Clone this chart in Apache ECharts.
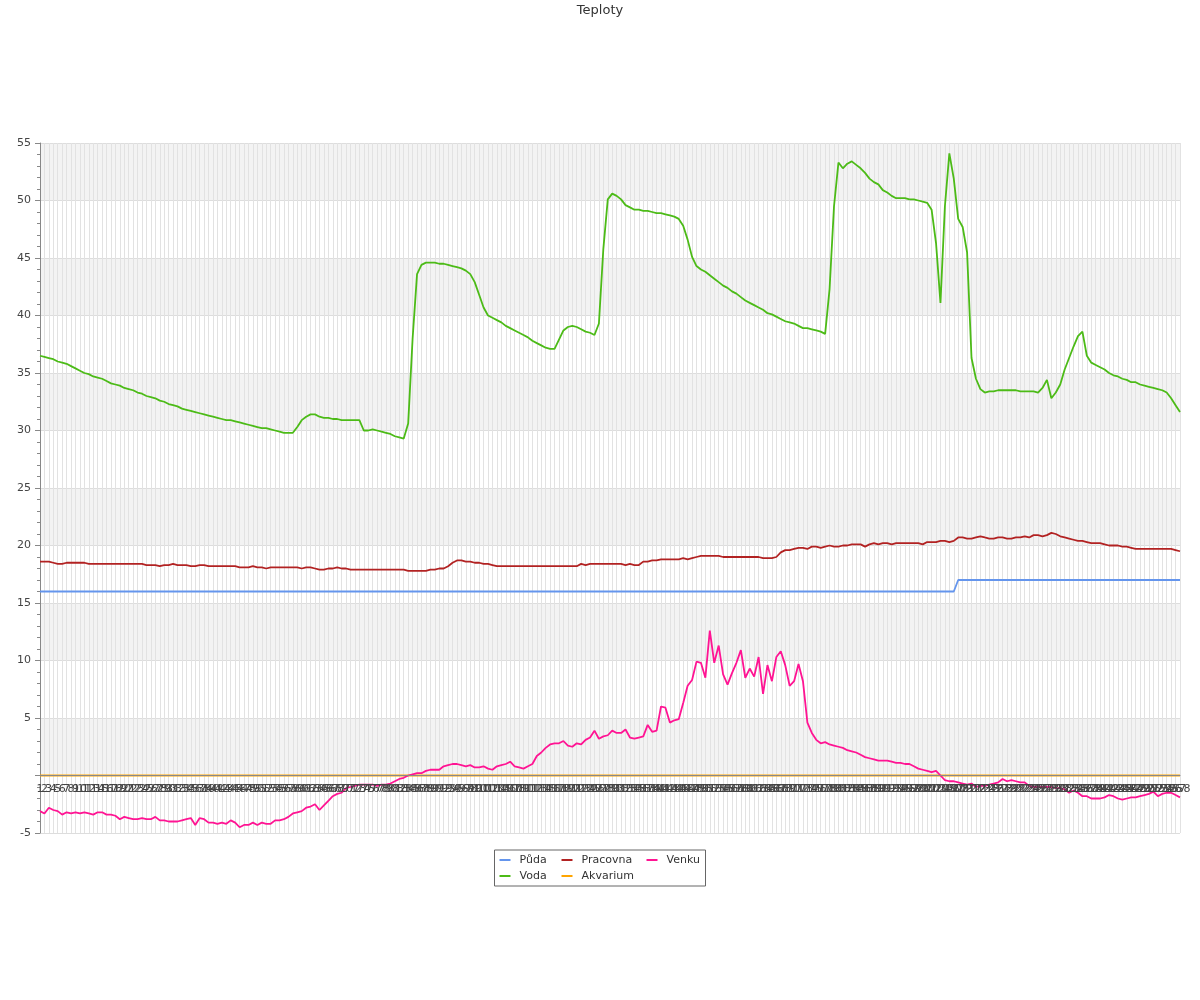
<!DOCTYPE html>
<html>
<head>
<meta charset="utf-8">
<script src="https://cdn.jsdelivr.net/npm/echarts@6/dist/echarts.min.js"></script>
<style>html,body{margin:0;padding:0;background:#fff}#c{width:1200px;height:1000px}</style>
</head>
<body>
<div id="c"></div>
<script>
const title = 'Teploty';
const categories = Array.from({length: 258}, (_, i) => String(i + 1));

const puda = [
16,16,16,16,16,16,16,16,16,16,16,16,16,16,16,16,16,16,16,16,
16,16,16,16,16,16,16,16,16,16,16,16,16,16,16,16,16,16,16,16,
16,16,16,16,16,16,16,16,16,16,16,16,16,16,16,16,16,16,16,16,
16,16,16,16,16,16,16,16,16,16,16,16,16,16,16,16,16,16,16,16,
16,16,16,16,16,16,16,16,16,16,16,16,16,16,16,16,16,16,16,16,
16,16,16,16,16,16,16,16,16,16,16,16,16,16,16,16,16,16,16,16,
16,16,16,16,16,16,16,16,16,16,16,16,16,16,16,16,16,16,16,16,
16,16,16,16,16,16,16,16,16,16,16,16,16,16,16,16,16,16,16,16,
16,16,16,16,16,16,16,16,16,16,16,16,16,16,16,16,16,16,16,16,
16,16,16,16,16,16,16,16,16,16,16,16,16,16,16,16,16,16,16,16,
16,16,16,16,16,16,16,
17,17,17,17,17,17,17,17,17,17,17,17,17,17,17,17,17,17,17,17,
17,17,17,17,17,17,17,17,17,17,17,17,17,17,17,17,17,17,17,17,
17,17,17,17,17,17,17,17,17,17,17
];

const voda = [
36.5,36.4,36.3,36.2,36.0,35.9,35.8,35.6,35.4,35.2,
35.0,34.9,34.7,34.6,34.5,34.3,34.1,34.0,33.9,33.7,
33.6,33.5,33.3,33.2,33.0,32.9,32.8,32.6,32.5,32.3,
32.2,32.1,31.9,31.8,31.7,31.6,31.5,31.4,31.3,31.2,
31.1,31.0,30.9,30.9,30.8,30.7,30.6,30.5,30.4,30.3,
30.2,30.2,30.1,30.0,29.9,29.8,29.8,29.8,30.3,30.9,
31.2,31.4,31.4,31.2,31.1,31.1,31.0,31.0,30.9,30.9,
30.9,30.9,30.9,30.0,30.0,30.1,30.0,29.9,29.8,29.7,
29.5,29.4,29.3,30.6,38.0,43.6,44.4,44.6,44.6,44.6,
44.5,44.5,44.4,44.3,44.2,44.1,43.9,43.6,42.9,41.8,
40.7,40.0,39.8,39.6,39.4,39.1,38.9,38.7,38.5,38.3,
38.1,37.8,37.6,37.4,37.2,37.1,37.1,37.9,38.7,39.0,
39.1,39.0,38.8,38.6,38.5,38.3,39.3,45.8,50.1,50.6,
50.4,50.1,49.6,49.4,49.2,49.2,49.1,49.1,49.0,48.9,
48.9,48.8,48.7,48.6,48.4,47.8,46.6,45.1,44.3,44.0,
43.8,43.5,43.2,42.9,42.6,42.4,42.1,41.9,41.6,41.3,
41.1,40.9,40.7,40.5,40.2,40.1,39.9,39.7,39.5,39.4,
39.3,39.1,38.9,38.9,38.8,38.7,38.6,38.4,42.3,49.5,
53.3,52.8,53.2,53.4,53.1,52.8,52.4,51.9,51.6,51.4,
50.9,50.7,50.4,50.2,50.2,50.2,50.1,50.1,50.0,49.9,
49.8,49.2,46.3,41.1,49.5,54.1,51.9,48.4,47.7,45.5,
36.3,34.5,33.6,33.3,33.4,33.4,33.5,33.5,33.5,33.5,
33.5,33.4,33.4,33.4,33.4,33.3,33.7,34.4,32.8,33.3,
34.0,35.3,36.3,37.3,38.2,38.6,36.5,35.9,35.7,35.5,
35.3,35.0,34.8,34.7,34.5,34.4,34.2,34.2,34.0,33.9,
33.8,33.7,33.6,33.5,33.3,32.8,32.2,31.6
];

const pracovna = [
18.6,18.6,18.6,18.5,18.4,18.4,18.5,18.5,18.5,18.5,
18.5,18.4,18.4,18.4,18.4,18.4,18.4,18.4,18.4,18.4,
18.4,18.4,18.4,18.4,18.3,18.3,18.3,18.2,18.3,18.3,
18.4,18.3,18.3,18.3,18.2,18.2,18.3,18.3,18.2,18.2,
18.2,18.2,18.2,18.2,18.2,18.1,18.1,18.1,18.2,18.1,
18.1,18.0,18.1,18.1,18.1,18.1,18.1,18.1,18.1,18.0,
18.1,18.1,18.0,17.9,17.9,18.0,18.0,18.1,18.0,18.0,
17.9,17.9,17.9,17.9,17.9,17.9,17.9,17.9,17.9,17.9,
17.9,17.9,17.9,17.8,17.8,17.8,17.8,17.8,17.9,17.9,
18.0,18.0,18.2,18.5,18.7,18.7,18.6,18.6,18.5,18.5,
18.4,18.4,18.3,18.2,18.2,18.2,18.2,18.2,18.2,18.2,
18.2,18.2,18.2,18.2,18.2,18.2,18.2,18.2,18.2,18.2,
18.2,18.2,18.4,18.3,18.4,18.4,18.4,18.4,18.4,18.4,
18.4,18.4,18.3,18.4,18.3,18.3,18.6,18.6,18.7,18.7,
18.8,18.8,18.8,18.8,18.8,18.9,18.8,18.9,19.0,19.1,
19.1,19.1,19.1,19.1,19.0,19.0,19.0,19.0,19.0,19.0,
19.0,19.0,19.0,18.9,18.9,18.9,19.0,19.4,19.6,19.6,
19.7,19.8,19.8,19.7,19.9,19.9,19.8,19.9,20.0,19.9,
19.9,20.0,20.0,20.1,20.1,20.1,19.9,20.1,20.2,20.1,
20.2,20.2,20.1,20.2,20.2,20.2,20.2,20.2,20.2,20.1,
20.3,20.3,20.3,20.4,20.4,20.3,20.4,20.7,20.7,20.6,
20.6,20.7,20.8,20.7,20.6,20.6,20.7,20.7,20.6,20.6,
20.7,20.7,20.8,20.7,20.9,20.9,20.8,20.9,21.1,21.0,
20.8,20.7,20.6,20.5,20.4,20.4,20.3,20.2,20.2,20.2,
20.1,20.0,20.0,20.0,19.9,19.9,19.8,19.7,19.7,19.7,
19.7,19.7,19.7,19.7,19.7,19.7,19.6,19.5
];

const akvarium = [
0,0,0,0,0,0,0,0,0,0,0,0,0,0,0,0,0,0,0,0,
0,0,0,0,0,0,0,0,0,0,0,0,0,0,0,0,0,0,0,0,
0,0,0,0,0,0,0,0,0,0,0,0,0,0,0,0,0,0,0,0,
0,0,0,0,0,0,0,0,0,0,0,0,0,0,0,0,0,0,0,0,
0,0,0,0,0,0,0,0,0,0,0,0,0,0,0,0,0,0,0,0,
0,0,0,0,0,0,0,0,0,0,0,0,0,0,0,0,0,0,0,0,
0,0,0,0,0,0,0,0,0,0,0,0,0,0,0,0,0,0,0,0,
0,0,0,0,0,0,0,0,0,0,0,0,0,0,0,0,0,0,0,0,
0,0,0,0,0,0,0,0,0,0,0,0,0,0,0,0,0,0,0,0,
0,0,0,0,0,0,0,0,0,0,0,0,0,0,0,0,0,0,0,0,
0,0,0,0,0,0,0,0,0,0,0,0,0,0,0,0,0,0,0,0,
0,0,0,0,0,0,0,0,0,0,0,0,0,0,0,0,0,0,0,0,
0,0,0,0,0,0,0,0,0,0,0,0,0,0,0,0,0,0
];

const venku = [
-3.1,-3.3,-2.8,-3.0,-3.1,-3.4,-3.2,-3.3,-3.2,-3.3,
-3.2,-3.3,-3.4,-3.2,-3.2,-3.4,-3.4,-3.5,-3.8,-3.6,
-3.7,-3.8,-3.8,-3.7,-3.8,-3.8,-3.6,-3.9,-3.9,-4.0,
-4.0,-4.0,-3.9,-3.8,-3.7,-4.3,-3.7,-3.8,-4.1,-4.1,
-4.2,-4.1,-4.2,-3.9,-4.1,-4.5,-4.3,-4.3,-4.1,-4.3,
-4.1,-4.2,-4.2,-3.9,-3.9,-3.8,-3.6,-3.3,-3.2,-3.1,
-2.8,-2.7,-2.5,-3.0,-2.6,-2.2,-1.8,-1.6,-1.5,-1.1,
-1.0,-0.9,-0.8,-0.8,-0.8,-0.8,-0.9,-0.8,-0.8,-0.7,
-0.5,-0.3,-0.2,0.0,0.1,0.2,0.2,0.4,0.5,0.5,
0.5,0.8,0.9,1.0,1.0,0.9,0.8,0.9,0.7,0.7,
0.8,0.6,0.5,0.8,0.9,1.0,1.2,0.8,0.7,0.6,
0.8,1.0,1.7,2.0,2.4,2.7,2.8,2.8,3.0,2.6,
2.5,2.8,2.7,3.1,3.3,3.9,3.2,3.4,3.5,3.9,
3.7,3.7,4.0,3.3,3.2,3.3,3.4,4.4,3.8,3.9,
6.0,5.9,4.6,4.8,4.9,6.3,7.8,8.3,9.9,9.8,
8.5,12.6,9.8,11.3,8.8,7.9,8.9,9.8,10.9,8.5,
9.3,8.6,10.3,7.1,9.6,8.2,10.3,10.8,9.6,7.8,
8.2,9.7,8.2,4.6,3.7,3.1,2.8,2.9,2.7,2.6,
2.5,2.4,2.2,2.1,2.0,1.8,1.6,1.5,1.4,1.3,
1.3,1.3,1.2,1.1,1.1,1.0,1.0,0.8,0.6,0.5,
0.4,0.3,0.4,0.0,-0.4,-0.5,-0.5,-0.6,-0.7,-0.8,
-0.7,-1.0,-0.9,-0.9,-0.8,-0.7,-0.6,-0.3,-0.5,-0.4,
-0.5,-0.6,-0.6,-0.9,-1.0,-1.0,-1.0,-1.0,-1.0,-1.1,
-1.1,-1.2,-1.5,-1.3,-1.5,-1.8,-1.8,-2.0,-2.0,-2.0,
-1.9,-1.7,-1.8,-2.0,-2.1,-2.0,-1.9,-1.9,-1.8,-1.7,
-1.6,-1.4,-1.8,-1.6,-1.5,-1.5,-1.7,-1.9
];

const seriesNames = ['Půda', 'Voda', 'Pracovna', 'Akvarium', 'Venku'];
const seriesData = [puda, voda, pracovna, akvarium, venku];
const seriesColors = ['#6495ED', '#4CBB17', '#B22222', '#FFA500', '#FF1493'];
const legendOrder = ['Půda', 'Pracovna', 'Venku', 'Voda', 'Akvarium'];
const legendTextWidth = {'Půda': 40, 'Voda': 40, 'Pracovna': 63, 'Akvarium': 63, 'Venku': 34};

const Y_MIN = -5, Y_MAX = 55, GRID_TOP = 143, GRID_BOTTOM = 167, CHART_H = 1000;
const plotH = CHART_H - GRID_TOP - GRID_BOTTOM;
const zeroOffset = -plotH * (0 - Y_MIN) / (Y_MAX - Y_MIN);

const FONT = 'DejaVu Sans';
const chart = echarts.init(document.getElementById('c'), null, {renderer: 'canvas'});
chart.setOption({
  animation: false,
  backgroundColor: '#ffffff',
  title: {
    text: title, left: 'center', top: 0, padding: [4, 5],
    textStyle: {fontFamily: FONT, fontSize: 13, fontWeight: 'normal', color: '#333'}
  },
  legend: {
    data: legendOrder.map(n => ({name: n, textStyle: {width: legendTextWidth[n]}})),
    left: 'center', top: 850, width: 201,
    orient: 'horizontal',
    icon: 'rect', itemWidth: 11, itemHeight: 2, itemGap: 2,
    padding: [3, 5],
    borderColor: '#666', borderWidth: 1, borderRadius: 0,
    textStyle: {fontFamily: FONT, fontSize: 11, color: '#333', lineHeight: 14, padding: [0, 0, 0, 4]}
  },
  grid: {left: 40, right: 20, top: GRID_TOP, bottom: GRID_BOTTOM, containLabel: false},
  xAxis: [{
    type: 'category', data: categories, boundaryGap: false,
    axisLine: {show: false},
    axisTick: {show: false},
    axisLabel: {show: false},
    splitLine: {show: true, interval: 0, lineStyle: {color: '#e2e2e2', width: 1}}
  }, {
    type: 'category', data: categories, boundaryGap: false, position: 'bottom',
    offset: zeroOffset, z: 5,
    axisLine: {show: true, onZero: false, lineStyle: {color: '#888', width: 1}},
    axisTick: {show: false},
    axisLabel: {interval: 0, fontFamily: FONT, fontSize: 11, color: '#444', margin: 8},
    splitLine: {show: false}
  }],
  yAxis: {
    type: 'value', min: Y_MIN, max: Y_MAX, interval: 5,
    axisLine: {show: true, lineStyle: {color: '#888', width: 1}},
    axisTick: {show: true, length: 5, lineStyle: {color: '#888'}},
    minorTick: {show: true, splitNumber: 5, length: 3, lineStyle: {color: '#888'}},
    axisLabel: {fontFamily: FONT, fontSize: 11, color: '#444', margin: 9,
      formatter: v => (v === 0 ? '' : String(v))},
    splitLine: {show: true, lineStyle: {color: '#dddddd', width: 1}},
    splitArea: {show: true, areaStyle: {color: ['rgba(255,255,255,0)', 'rgba(215,215,215,0.3)']}}
  },
  series: seriesNames.map((n, k) => ({
    name: n, type: 'line', data: seriesData[k], xAxisIndex: 0,
    showSymbol: false, symbol: 'none', smooth: false,
    lineStyle: {color: seriesColors[k], width: 1.8},
    itemStyle: {color: seriesColors[k]},
    z: 3
  }))
});
</script>
</body>
</html>
